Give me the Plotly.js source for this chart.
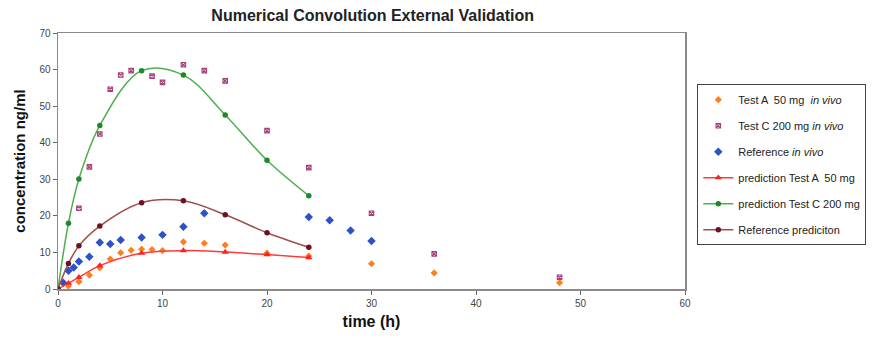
<!DOCTYPE html>
<html>
<head>
<meta charset="utf-8">
<script src="https://cdn.plot.ly/plotly-3.0.1.min.js"></script>
<style>html,body{margin:0;padding:0;background:#fff;}#chart{width:877px;height:338px;}</style>
</head>
<body>
<div id="chart"></div>
<script>
// Observed data (in vivo)
const testA_t = [1, 2, 3, 4, 5, 6, 7, 8, 9, 10, 12, 14, 16, 20, 24, 30, 36, 48];
const testA_c = [0.8, 2.0, 3.8, 5.8, 8.2, 9.9, 10.6, 10.9, 10.8, 10.5, 12.9, 12.5, 12.0, 9.8, 9.0, 6.9, 4.4, 1.7];

const testC_t = [2, 3, 4, 5, 6, 7, 9, 10, 12, 14, 16, 20, 24, 30, 36, 48];
const testC_c = [22.1, 33.4, 42.4, 54.6, 58.5, 59.7, 58.2, 56.5, 61.3, 59.7, 56.9, 43.3, 33.2, 20.7, 9.6, 3.2];

const ref_t = [0.5, 1, 1.5, 2, 3, 4, 5, 6, 8, 10, 12, 14, 24, 26, 28, 30];
const ref_c = [1.7, 5.0, 5.9, 7.5, 8.8, 12.7, 12.3, 13.4, 14.1, 14.8, 17.0, 20.7, 19.7, 18.8, 16.0, 13.1];

// Predictions
const pred_t = [0, 1, 2, 4, 8, 12, 16, 20, 24];
const predA_c = [0, 1.6, 3.2, 6.4, 9.8, 10.5, 10.1, 9.4, 8.6];
const predC_c = [0, 18.0, 30.1, 44.7, 59.7, 58.5, 47.6, 35.2, 25.5];
const predRef_c = [0, 7.0, 11.8, 17.2, 23.6, 24.1, 20.3, 15.4, 11.4];

const names = [
  'Test A  50 mg  <i>in vivo</i>',
  'Test C 200 mg <i>in vivo</i>',
  'Reference <i>in vivo</i>',
  'prediction Test A  50 mg',
  'prediction Test C 200 mg',
  'Reference prediciton'
];

const traces = [
  {x: testA_t, y: testA_c, name: names[0], mode: 'markers', type: 'scatter', legendgroup: 'a',
   marker: {symbol: 'diamond', size: 5.5, color: '#ff7f1e'}},
  {x: testC_t, y: testC_c, name: names[1], mode: 'markers', type: 'scatter', legendgroup: 'b',
   marker: {symbol: 'square-x-open', size: 4.5, color: '#a8407a', line: {width: 1.1}}},
  {x: ref_t, y: ref_c, name: names[2], mode: 'markers', type: 'scatter', legendgroup: 'c',
   marker: {symbol: 'diamond', size: 6.5, color: '#2e50c8'}},
  {x: pred_t, y: predA_c, name: names[3], mode: 'lines+markers', type: 'scatter', legendgroup: 'd',
   line: {color: '#ff3a3a', width: 1.5, shape: 'spline'}, marker: {symbol: 'triangle-up', size: 6.5, color: '#ff2020'}},
  {x: pred_t, y: predC_c, name: names[4], mode: 'lines+markers', type: 'scatter', legendgroup: 'e',
   line: {color: '#4fae4f', width: 1.5, shape: 'spline'}, marker: {symbol: 'circle', size: 5.5, color: '#1a8a2a'}},
  {x: pred_t, y: predRef_c, name: names[5], mode: 'lines+markers', type: 'scatter', legendgroup: 'f',
   line: {color: '#a0504a', width: 1.5, shape: 'spline'}, marker: {symbol: 'circle', size: 5.5, color: '#6e1020'}}
];

const font = 'Arial, "Liberation Sans", sans-serif';
const layout = {
  width: 877, height: 338,
  margin: {l: 58, r: 191, t: 33, b: 49},
  paper_bgcolor: '#fff', plot_bgcolor: '#fff',
  font: {family: font, size: 10, color: '#333'},
  title: {text: '<b>Numerical Convolution External Validation</b>', font: {family: font, size: 16, color: '#222'},
          x: 0.425, xanchor: 'center', y: 0.955, yanchor: 'middle'},
  xaxis: {range: [0, 60], dtick: 10, tick0: 0, showgrid: false, zeroline: false,
          showline: true, linecolor: '#8a8a8a', linewidth: 1.5, mirror: true,
          ticks: 'outside', ticklen: 4, tickcolor: '#666',
          tickfont: {family: font, size: 10, color: '#444'},
          title: {text: '<b>time (h)</b>', font: {family: font, size: 16, color: '#111'}, standoff: 8}},
  yaxis: {range: [0, 70], dtick: 10, tick0: 0, showgrid: false, zeroline: false,
          showline: true, linecolor: '#8a8a8a', linewidth: 1.5, mirror: true,
          ticks: 'outside', ticklen: 4, tickcolor: '#666',
          tickfont: {family: font, size: 10, color: '#444'},
          title: {text: '<b>concentration ng/ml</b>', font: {family: font, size: 15, color: '#111'}, standoff: 10}},
  legend: {x: 1.018, xanchor: 'left', y: 0.8, yanchor: 'top',
           bordercolor: '#444', borderwidth: 1, bgcolor: '#fff',
           font: {family: font, size: 11, color: '#222'}, tracegroupgap: 7},
  showlegend: true
};

Plotly.newPlot('chart', traces, layout, {displayModeBar: false, staticPlot: true});
</script>
</body>
</html>
